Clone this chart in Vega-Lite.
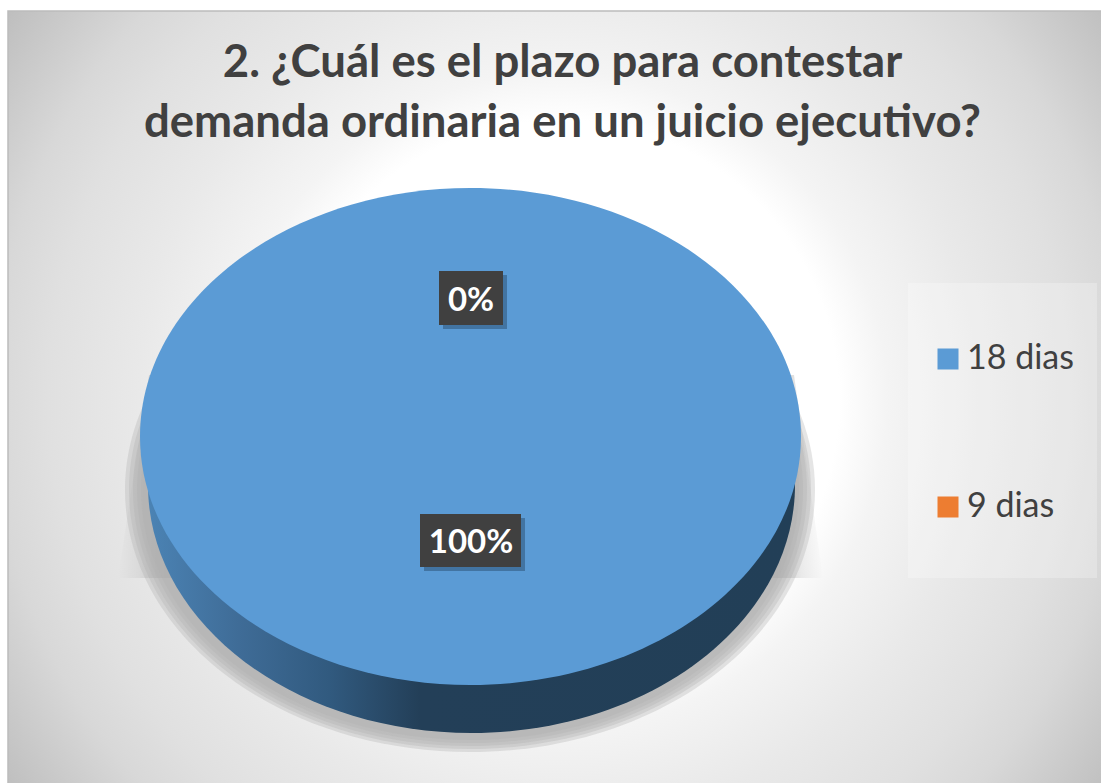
{
"$schema":"https://vega.github.io/schema/vega-lite/v6.json",
"width":1101,"height":783,"padding":0,"autosize":{"type":"none"},"background":"white",
"view":{"stroke":null},
"title":{"text":["2. ¿Cuál es el plazo para contestar","demanda ordinaria en un juicio ejecutivo?"],"font":"Lato","fontSize":45.5,"fontWeight":"bold","color":"#404040","lineHeight":60,"anchor":"middle","baseline":"top","dx":12,"offset":-146},
"data":{"values":[{"categoria":"18 dias","valor":100,"etiqueta":"100%"},{"categoria":"9 dias","valor":0,"etiqueta":"0%"}]},
"layer":[
{"data":{"values":[{"pieza":"fondo"}]},
 "mark":{"type":"rect","stroke":"#bcbcbc","strokeWidth":1.5,"fill":{"gradient":"radial","x1":0.5,"y1":0.5,"r1":0,"x2":0.5,"y2":0.5,"r2":0.635,"stops":[{"offset":0,"color":"#ffffff"},{"offset":0.4,"color":"#ffffff"},{"offset":0.47,"color":"#f4f4f4"},{"offset":0.6,"color":"#e9e9e9"},{"offset":0.73,"color":"#e0e0e0"},{"offset":0.81,"color":"#d8d8d8"},{"offset":0.96,"color":"#bfbfbf"},{"offset":1,"color":"#b8b8b8"}]}},
 "encoding":{"x":{"datum":8,"type":"quantitative","scale":{"domain":[0,1101],"nice":false,"zero":false},"axis":null},"x2":{"datum":1110},"y":{"datum":11,"type":"quantitative","scale":{"domain":[783,0],"nice":false,"zero":false},"axis":null},"y2":{"datum":790}}},
{"data":{"values":[{"pieza":"leyenda"}]},
 "mark":{"type":"rect","fill":"#ffffff","opacity":0.25},
 "encoding":{"x":{"datum":908,"type":"quantitative","scale":{"domain":[0,1101],"nice":false,"zero":false},"axis":null},"x2":{"datum":1097},"y":{"datum":283,"type":"quantitative","scale":{"domain":[783,0],"nice":false,"zero":false},"axis":null},"y2":{"datum":578}}},
{"data":{"values":[{"pieza":"sombra conica"}]},
 "mark":{"type":"point","filled":true,"opacity":1,"strokeWidth":0,"size":4,"shape":"M-321,-125 L324,-125 L353,78 L-352,78 Z","fill":{"gradient":"linear","x1":0,"y1":0,"x2":1,"y2":0,"stops":[{"offset":0,"color":"rgba(190,190,190,0)"},{"offset":0.03,"color":"rgba(190,190,190,0.3)"},{"offset":0.07,"color":"rgba(190,190,190,1)"},{"offset":0.93,"color":"rgba(196,196,196,1)"},{"offset":0.97,"color":"rgba(196,196,196,0.3)"},{"offset":1,"color":"rgba(196,196,196,0)"}]}},
 "encoding":{"x":{"datum":470,"type":"quantitative","scale":{"domain":[0,1101],"nice":false,"zero":false},"axis":null},"y":{"datum":500,"type":"quantitative","scale":{"domain":[783,0],"nice":false,"zero":false},"axis":null}}},
{"data":{"values":[{"pieza":"sombra 1"}]},
 "mark":{"type":"point","filled":true,"opacity":0.33,"strokeWidth":0,"size":4,"fill":"#b0b0b0","shape":"M-345,0 A345,262 0 1,1 345,0 A345,262 0 1,1 -345,0 Z"},
 "encoding":{"x":{"datum":470,"type":"quantitative","scale":{"domain":[0,1101],"nice":false,"zero":false},"axis":null},"y":{"datum":490,"type":"quantitative","scale":{"domain":[783,0],"nice":false,"zero":false},"axis":null}}},
{"data":{"values":[{"pieza":"sombra 2"}]},
 "mark":{"type":"point","filled":true,"opacity":0.33,"strokeWidth":0,"size":4,"fill":"#b0b0b0","shape":"M-341,0 A341,259 0 1,1 341,0 A341,259 0 1,1 -341,0 Z"},
 "encoding":{"x":{"datum":470,"type":"quantitative","scale":{"domain":[0,1101],"nice":false,"zero":false},"axis":null},"y":{"datum":490,"type":"quantitative","scale":{"domain":[783,0],"nice":false,"zero":false},"axis":null}}},
{"data":{"values":[{"pieza":"sombra 3"}]},
 "mark":{"type":"point","filled":true,"opacity":0.33,"strokeWidth":0,"size":4,"fill":"#b0b0b0","shape":"M-337,0 A337,256 0 1,1 337,0 A337,256 0 1,1 -337,0 Z"},
 "encoding":{"x":{"datum":470,"type":"quantitative","scale":{"domain":[0,1101],"nice":false,"zero":false},"axis":null},"y":{"datum":490,"type":"quantitative","scale":{"domain":[783,0],"nice":false,"zero":false},"axis":null}}},
{"data":{"values":[{"pieza":"sombra 4"}]},
 "mark":{"type":"point","filled":true,"opacity":0.33,"strokeWidth":0,"size":4,"fill":"#b0b0b0","shape":"M-333,0 A333,253 0 1,1 333,0 A333,253 0 1,1 -333,0 Z"},
 "encoding":{"x":{"datum":470,"type":"quantitative","scale":{"domain":[0,1101],"nice":false,"zero":false},"axis":null},"y":{"datum":490,"type":"quantitative","scale":{"domain":[783,0],"nice":false,"zero":false},"axis":null}}},
{"data":{"values":[{"pieza":"sombra 5"}]},
 "mark":{"type":"point","filled":true,"opacity":0.33,"strokeWidth":0,"size":4,"fill":"#b0b0b0","shape":"M-329,0 A329,250 0 1,1 329,0 A329,250 0 1,1 -329,0 Z"},
 "encoding":{"x":{"datum":470,"type":"quantitative","scale":{"domain":[0,1101],"nice":false,"zero":false},"axis":null},"y":{"datum":490,"type":"quantitative","scale":{"domain":[783,0],"nice":false,"zero":false},"axis":null}}},
{"data":{"values":[{"pieza":"lateral"}]},
 "mark":{"type":"point","filled":true,"opacity":1,"strokeWidth":0,"size":4,"shape":"M-323.5,0 A323.5,248 0 1,1 323.5,0 A323.5,248 0 1,1 -323.5,0 Z","fill":{"gradient":"linear","x1":0,"y1":0,"x2":1,"y2":0,"stops":[{"offset":0,"color":"#4b83b4"},{"offset":0.14,"color":"#3f6c97"},{"offset":0.28,"color":"#315a7f"},{"offset":0.42,"color":"#233f58"},{"offset":1,"color":"#223f57"}]}},
 "encoding":{"x":{"datum":471.5,"type":"quantitative","scale":{"domain":[0,1101],"nice":false,"zero":false},"axis":null},"y":{"datum":485,"type":"quantitative","scale":{"domain":[783,0],"nice":false,"zero":false},"axis":null}}},
{"transform":[{"filter":"datum.valor > 0"}],
 "mark":{"type":"point","filled":true,"opacity":1,"strokeWidth":0,"size":4,"shape":"M-330.5,0 A330.5,248.5 0 1,1 330.5,0 A330.5,248.5 0 1,1 -330.5,0 Z"},
 "encoding":{"x":{"datum":470.5,"type":"quantitative","scale":{"domain":[0,1101],"nice":false,"zero":false},"axis":null},"y":{"datum":436.5,"type":"quantitative","scale":{"domain":[783,0],"nice":false,"zero":false},"axis":null},
  "color":{"field":"categoria","type":"nominal","scale":{"domain":["18 dias","9 dias"],"range":["#5B9BD5","#ED7D31"]},
   "legend":{"title":null,"orient":"none","legendX":931,"legendY":342,"direction":"vertical","symbolType":"square","symbolSize":441,"symbolStrokeWidth":0,"symbolOpacity":1,"labelFont":"Lato","labelFontSize":34,"labelColor":"#404040","rowPadding":114,"labelOffset":2}}}},
{"data":{"values":[{"pieza":"sombra etiqueta"}]},
 "mark":{"type":"rect","fill":"#1f3a55","opacity":0.4},
 "encoding":{"x":{"datum":443,"type":"quantitative","scale":{"domain":[0,1101],"nice":false,"zero":false},"axis":null},"x2":{"datum":507},"y":{"datum":275,"type":"quantitative","scale":{"domain":[783,0],"nice":false,"zero":false},"axis":null},"y2":{"datum":329}}},
{"data":{"values":[{"pieza":"sombra etiqueta"}]},
 "mark":{"type":"rect","fill":"#1f3a55","opacity":0.4},
 "encoding":{"x":{"datum":424,"type":"quantitative","scale":{"domain":[0,1101],"nice":false,"zero":false},"axis":null},"x2":{"datum":525},"y":{"datum":518,"type":"quantitative","scale":{"domain":[783,0],"nice":false,"zero":false},"axis":null},"y2":{"datum":571}}},
{"data":{"values":[{"pieza":"caja etiqueta"}]},
 "mark":{"type":"rect","fill":"#404040"},
 "encoding":{"x":{"datum":439,"type":"quantitative","scale":{"domain":[0,1101],"nice":false,"zero":false},"axis":null},"x2":{"datum":503},"y":{"datum":271,"type":"quantitative","scale":{"domain":[783,0],"nice":false,"zero":false},"axis":null},"y2":{"datum":325}}},
{"data":{"values":[{"pieza":"caja etiqueta"}]},
 "mark":{"type":"rect","fill":"#404040"},
 "encoding":{"x":{"datum":420,"type":"quantitative","scale":{"domain":[0,1101],"nice":false,"zero":false},"axis":null},"x2":{"datum":521},"y":{"datum":514,"type":"quantitative","scale":{"domain":[783,0],"nice":false,"zero":false},"axis":null},"y2":{"datum":567}}},
{"transform":[{"filter":"datum.valor == 0"}],
 "mark":{"type":"text","font":"Lato","fontSize":33,"fontWeight":"bold","color":"#ffffff","align":"center","baseline":"middle"},
 "encoding":{"text":{"field":"etiqueta"},"x":{"datum":471,"type":"quantitative","scale":{"domain":[0,1101],"nice":false,"zero":false},"axis":null},"y":{"datum":301,"type":"quantitative","scale":{"domain":[783,0],"nice":false,"zero":false},"axis":null}}},
{"transform":[{"filter":"datum.valor > 0"}],
 "mark":{"type":"text","font":"Lato","fontSize":33,"fontWeight":"bold","color":"#ffffff","align":"center","baseline":"middle"},
 "encoding":{"text":{"field":"etiqueta"},"x":{"datum":471,"type":"quantitative","scale":{"domain":[0,1101],"nice":false,"zero":false},"axis":null},"y":{"datum":543,"type":"quantitative","scale":{"domain":[783,0],"nice":false,"zero":false},"axis":null}}}
]
}
